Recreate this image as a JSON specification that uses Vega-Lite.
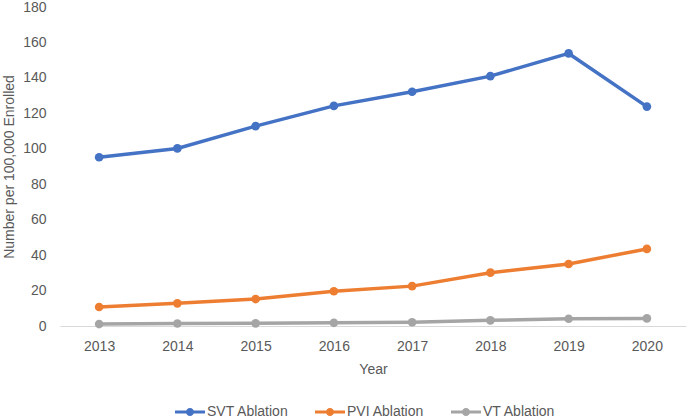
{
  "$schema": "https://vega.github.io/schema/vega-lite/v6.json",
  "width": 626,
  "height": 319,
  "autosize": "none",
  "padding": {"top": 7, "left": 60, "right": 2, "bottom": 94},
  "config": {
    "view": {"stroke": null},
    "font": "Liberation Sans",
    "axis": {"labelColor": "#595959", "titleColor": "#595959", "labelFontSize": 14, "titleFontSize": 14, "titleFontWeight": "normal", "grid": false, "ticks": false}
  },
  "data": {
    "values": [
      {"Year": "2013", "Series": "SVT Ablation", "Value": 95.2},
      {"Year": "2014", "Series": "SVT Ablation", "Value": 100.2},
      {"Year": "2015", "Series": "SVT Ablation", "Value": 112.8},
      {"Year": "2016", "Series": "SVT Ablation", "Value": 124.2},
      {"Year": "2017", "Series": "SVT Ablation", "Value": 132.2},
      {"Year": "2018", "Series": "SVT Ablation", "Value": 141.0},
      {"Year": "2019", "Series": "SVT Ablation", "Value": 153.8},
      {"Year": "2020", "Series": "SVT Ablation", "Value": 123.8},
      {"Year": "2013", "Series": "PVI Ablation", "Value": 10.7},
      {"Year": "2014", "Series": "PVI Ablation", "Value": 12.8},
      {"Year": "2015", "Series": "PVI Ablation", "Value": 15.2},
      {"Year": "2016", "Series": "PVI Ablation", "Value": 19.6},
      {"Year": "2017", "Series": "PVI Ablation", "Value": 22.5},
      {"Year": "2018", "Series": "PVI Ablation", "Value": 30.1},
      {"Year": "2019", "Series": "PVI Ablation", "Value": 35.0},
      {"Year": "2020", "Series": "PVI Ablation", "Value": 43.5},
      {"Year": "2013", "Series": "VT Ablation", "Value": 1.1},
      {"Year": "2014", "Series": "VT Ablation", "Value": 1.4},
      {"Year": "2015", "Series": "VT Ablation", "Value": 1.5},
      {"Year": "2016", "Series": "VT Ablation", "Value": 1.8},
      {"Year": "2017", "Series": "VT Ablation", "Value": 2.1},
      {"Year": "2018", "Series": "VT Ablation", "Value": 3.2},
      {"Year": "2019", "Series": "VT Ablation", "Value": 4.1},
      {"Year": "2020", "Series": "VT Ablation", "Value": 4.3}
    ]
  },
  "encoding": {
    "x": {
      "field": "Year", "type": "ordinal",
      "scale": {"type": "point", "padding": 0.5},
      "axis": {"title": "Year", "labelAngle": 0, "domainColor": "#d9d9d9", "domainWidth": 1, "labelPadding": 13, "titlePadding": 9}
    },
    "y": {
      "field": "Value", "type": "quantitative",
      "scale": {"domain": [0, 180]},
      "axis": {"title": "Number per 100,000 Enrolled", "values": [0,20,40,60,80,100,120,140,160,180], "domain": false, "labelPadding": 14, "titlePadding": 6}
    },
    "color": {
      "field": "Series", "type": "nominal",
      "scale": {"domain": ["SVT Ablation", "PVI Ablation", "VT Ablation"], "range": ["#4472C4", "#ED7D31", "#A5A5A5"]},
      "legend": {
        "title": null, "orient": "none", "direction": "horizontal", "legendX": 115, "legendY": 390,
        "labelColor": "#595959", "labelFontSize": 14,
        "symbolType": "M-1,-0.1H1V0.1H-1Z M-0.27,0A0.27,0.27 0 1,1 0.27,0A0.27,0.27 0 1,1 -0.27,0Z",
        "symbolSize": 900, "symbolStrokeWidth": 0, "columnPadding": 26, "labelOffset": 2,
        "encode": {"symbols": {"update": {"fill": {"scale": "color", "field": "value"}, "opacity": {"value": 1}}}}
      }
    }
  },
  "layer": [
    {"mark": {"type": "line", "strokeWidth": 3.5}},
    {"mark": {"type": "point", "filled": true, "size": 75, "opacity": 1}}
  ]
}
